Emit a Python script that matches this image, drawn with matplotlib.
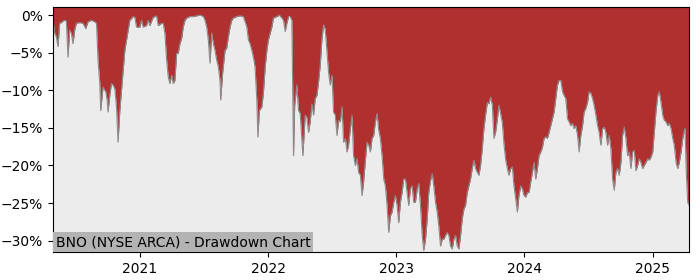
import numpy as np
import pandas as pd
import matplotlib
matplotlib.use("Agg")
import matplotlib.pyplot as plt
import matplotlib.dates as mdates
from matplotlib.ticker import PercentFormatter

TITLE = "BNO (NYSE ARCA) - Drawdown Chart"

# time as decimal year
years = [
    2020.323, 2020.336, 2020.349, 2020.362, 2020.375, 2020.388, 2020.401, 2020.414,
    2020.427, 2020.440, 2020.453, 2020.466, 2020.479, 2020.492, 2020.505, 2020.531,
    2020.557, 2020.578, 2020.596, 2020.623, 2020.648, 2020.662, 2020.674, 2020.688,
    2020.695, 2020.713, 2020.734, 2020.745, 2020.752, 2020.766, 2020.779, 2020.791,
    2020.805, 2020.818, 2020.830, 2020.844, 2020.857, 2020.883, 2020.909, 2020.922,
    2020.948, 2020.961, 2020.974, 2021.000, 2021.013, 2021.026, 2021.052, 2021.065,
    2021.078, 2021.104, 2021.130, 2021.143, 2021.170, 2021.182, 2021.195, 2021.209,
    2021.221, 2021.234, 2021.248, 2021.260, 2021.273, 2021.287, 2021.299, 2021.3125,
    2021.326, 2021.338, 2021.352, 2021.365, 2021.391, 2021.416, 2021.443, 2021.469,
    2021.495, 2021.508, 2021.521, 2021.534, 2021.547, 2021.560, 2021.573, 2021.586,
    2021.599, 2021.612, 2021.625, 2021.630, 2021.646, 2021.664, 2021.677, 2021.690,
    2021.703, 2021.716, 2021.729, 2021.755, 2021.781, 2021.807, 2021.834, 2021.846,
    2021.859, 2021.873, 2021.885, 2021.898, 2021.912, 2021.920, 2021.932, 2021.951,
    2021.963, 2021.977, 2021.990, 2022.002, 2022.016, 2022.029, 2022.041, 2022.068,
    2022.088, 2022.107, 2022.120, 2022.133, 2022.146, 2022.159, 2022.172, 2022.185,
    2022.198, 2022.207, 2022.224, 2022.237, 2022.250, 2022.271, 2022.289, 2022.302,
    2022.315, 2022.328, 2022.341, 2022.354, 2022.367, 2022.380, 2022.393, 2022.406,
    2022.420, 2022.432, 2022.445, 2022.459, 2022.471, 2022.484, 2022.498, 2022.510,
    2022.523, 2022.537, 2022.549, 2022.563, 2022.576, 2022.588, 2022.602, 2022.615,
    2022.627, 2022.641, 2022.654, 2022.666, 2022.680, 2022.693, 2022.705, 2022.719,
    2022.732, 2022.744, 2022.758, 2022.771, 2022.784, 2022.797, 2022.810, 2022.823,
    2022.836, 2022.849, 2022.862, 2022.875, 2022.888, 2022.901, 2022.914, 2022.927,
    2022.940, 2022.953, 2022.966, 2022.979, 2022.992, 2023.005, 2023.018, 2023.031,
    2023.044, 2023.057, 2023.070, 2023.083, 2023.096, 2023.109, 2023.122, 2023.135,
    2023.148, 2023.162, 2023.174, 2023.1875, 2023.201, 2023.213, 2023.227, 2023.240,
    2023.252, 2023.266, 2023.279, 2023.291, 2023.305, 2023.318, 2023.330, 2023.344,
    2023.357, 2023.369, 2023.383, 2023.396, 2023.409, 2023.422, 2023.435, 2023.448,
    2023.461, 2023.474, 2023.487, 2023.500, 2023.513, 2023.526, 2023.539, 2023.552,
    2023.565, 2023.578, 2023.591, 2023.604, 2023.617, 2023.630, 2023.643, 2023.656,
    2023.669, 2023.682, 2023.695, 2023.709, 2023.721, 2023.734, 2023.748, 2023.760,
    2023.773, 2023.787, 2023.799, 2023.8125, 2023.826, 2023.838, 2023.852, 2023.865,
    2023.877, 2023.891, 2023.904, 2023.916, 2023.930, 2023.943, 2023.955, 2023.969,
    2023.982, 2023.995, 2024.008, 2024.021, 2024.034, 2024.047, 2024.060, 2024.073,
    2024.086, 2024.099, 2024.112, 2024.125, 2024.138, 2024.151, 2024.164, 2024.177,
    2024.190, 2024.203, 2024.216, 2024.229, 2024.242, 2024.255, 2024.268, 2024.281,
    2024.295, 2024.307, 2024.320, 2024.334, 2024.346, 2024.359, 2024.373, 2024.385,
    2024.398, 2024.412, 2024.424, 2024.4375, 2024.451, 2024.463, 2024.477, 2024.490,
    2024.502, 2024.516, 2024.529, 2024.541, 2024.555, 2024.568, 2024.580, 2024.594,
    2024.607, 2024.620, 2024.633, 2024.646, 2024.659, 2024.672, 2024.685, 2024.698,
    2024.711, 2024.724, 2024.737, 2024.750, 2024.763, 2024.776, 2024.789, 2024.802,
    2024.815, 2024.828, 2024.841, 2024.854, 2024.867, 2024.880, 2024.893, 2024.906,
    2024.919, 2024.932, 2024.945, 2024.959, 2024.971, 2024.984, 2024.998, 2025.010,
    2025.023, 2025.037, 2025.049, 2025.0625, 2025.076, 2025.088, 2025.102, 2025.115,
    2025.127, 2025.141, 2025.154, 2025.166, 2025.180, 2025.193, 2025.205, 2025.219,
    2025.232, 2025.245, 2025.250, 2025.260, 2025.271, 2025.281,
]

# drawdown from running peak, in percent
drawdown = [
    -0.7, -2.4, -2.9, -4.2, -1.1, -1.0, -0.8, -0.7,
    -0.8, -5.6, -2.0, -2.4, -3.8, -2.0, -1.1, -1.0,
    -1.1, -1.8, -0.9, -0.7, -0.9, -1.1, -6.0, -9.1,
    -12.7, -9.6, -10.2, -11.3, -12.9, -10.6, -9.1, -9.3,
    -9.8, -12.2, -16.9, -12.7, -10.0, -4.7, -2.0, -0.7,
    -0.2, -0.3, -1.6, -1.6, -0.7, -1.6, -1.4, -0.7,
    -1.4, -0.3, -0.1, -1.4, -1.1, -1.1, -2.4, -6.0,
    -8.2, -9.1, -8.0, -9.1, -8.7, -5.1, -5.1, -3.8,
    -3.1, -1.6, -0.7, -0.4, -0.2, -0.2, -0.1, 0.0,
    -0.2, -0.7, -1.6, -3.3, -6.4, -2.4, -3.8, -4.7,
    -6.0, -6.9, -8.7, -11.3, -7.6, -4.7, -4.4, -2.9,
    -1.6, -0.7, -0.4, -0.2, -0.1, -0.2, -1.6, -3.3,
    -3.8, -4.7, -5.6, -6.9, -11.3, -16.2, -12.7, -12.2,
    -10.4, -6.9, -4.7, -3.3, -2.4, -1.6, -0.4, -0.2,
    0.0, -0.4, -0.7, -2.2, -1.1, -0.2, -0.2, -0.7,
    -18.7, -12.0, -9.3, -12.7, -13.1, -18.7, -13.3, -13.6,
    -15.6, -14.2, -11.8, -13.3, -11.1, -10.7, -8.9, -6.7,
    -3.1, -1.3, -1.9, -4.9, -7.6, -9.3, -8.0, -12.9,
    -13.3, -16.0, -14.0, -14.2, -12.2, -16.9, -16.4, -18.2,
    -17.3, -15.1, -13.3, -18.7, -20.0, -19.1, -20.9, -21.3,
    -24.0, -22.2, -19.3, -16.9, -17.3, -18.2, -16.4, -16.0,
    -14.2, -13.1, -15.3, -16.4, -18.7, -21.8, -22.7, -25.3,
    -28.9, -26.7, -26.2, -24.9, -24.0, -25.3, -27.6, -24.9,
    -23.6, -21.8, -21.8, -23.6, -25.3, -23.1, -22.7, -24.9,
    -24.9, -23.1, -22.4, -25.3, -29.3, -31.3, -29.8, -27.1,
    -23.6, -22.0, -21.1, -22.7, -24.9, -26.2, -28.0, -30.7,
    -29.8, -29.8, -29.3, -28.9, -29.3, -30.7, -31.1, -29.8,
    -29.3, -30.7, -31.1, -29.3, -27.1, -25.8, -25.3, -23.6,
    -22.7, -21.8, -20.4, -19.3, -20.4, -20.9, -21.3, -20.0,
    -17.8, -15.1, -13.3, -11.6, -11.8, -10.9, -12.0, -16.4,
    -15.6, -13.8, -12.0, -13.1, -14.4, -17.1, -19.3, -20.4,
    -21.3, -20.4, -20.2, -22.7, -24.4, -26.2, -24.0, -22.7,
    -23.1, -24.0, -24.2, -23.6, -23.6, -22.2, -20.9, -19.6,
    -21.8, -20.4, -18.7, -18.2, -17.6, -16.4, -16.2, -16.4,
    -15.6, -14.7, -13.8, -12.9, -11.1, -9.3, -8.7, -8.7,
    -10.2, -10.7, -11.1, -13.8, -14.2, -14.7, -14.4, -15.1,
    -14.7, -16.0, -18.2, -16.0, -14.7, -12.9, -12.4, -11.6,
    -10.2, -10.4, -11.1, -12.0, -13.3, -14.7, -15.6, -17.3,
    -15.1, -14.9, -15.6, -17.3, -16.0, -17.8, -21.8, -23.3,
    -20.9, -20.4, -21.3, -19.6, -16.0, -14.9, -16.4, -18.7,
    -18.2, -20.4, -18.2, -18.0, -20.7, -20.0, -19.1, -19.6,
    -20.4, -20.0, -19.6, -19.1, -19.3, -18.9, -18.2, -15.6,
    -12.9, -10.7, -10.2, -11.6, -13.3, -14.0, -14.2, -14.7,
    -14.4, -15.1, -16.4, -17.3, -19.6, -20.4, -19.6, -18.2,
    -16.4, -15.3, -15.1, -21.1, -24.9, -25.3,
]

yrs = np.array(years)
dates = pd.Timestamp("2021-01-01") + pd.to_timedelta((yrs - 2021) * 365.25, unit="D")
dd = np.array(drawdown)

Y_TOP = 1.07

fig = plt.figure(figsize=(7, 2.8), dpi=100)
ax = fig.add_axes([0.0757, 0.1, 0.9086, 0.875])
ax.set_facecolor("#ececec")

# red area runs from the curve all the way to the top of the plot
ax.fill_between(dates, dd, Y_TOP + 1, color="#b03030", linewidth=0)
ax.plot(dates, dd, color="#8c8c8c", linewidth=0.8)

ax.set_xlim(dates[0], dates[-1])
ax.set_ylim(-31.5, Y_TOP)
ax.yaxis.set_major_formatter(PercentFormatter(decimals=0))
ax.set_yticks([0, -5, -10, -15, -20, -25, -30])
ax.xaxis.set_major_locator(mdates.YearLocator())
ax.xaxis.set_major_formatter(mdates.DateFormatter("%Y"))

ax.text(0.004, 0.012, TITLE, transform=ax.transAxes, fontsize=10,
        ha="left", va="bottom",
        bbox=dict(facecolor="#b3b3b3", edgecolor="none", pad=2))

fig.savefig("out.png", dpi=100)
